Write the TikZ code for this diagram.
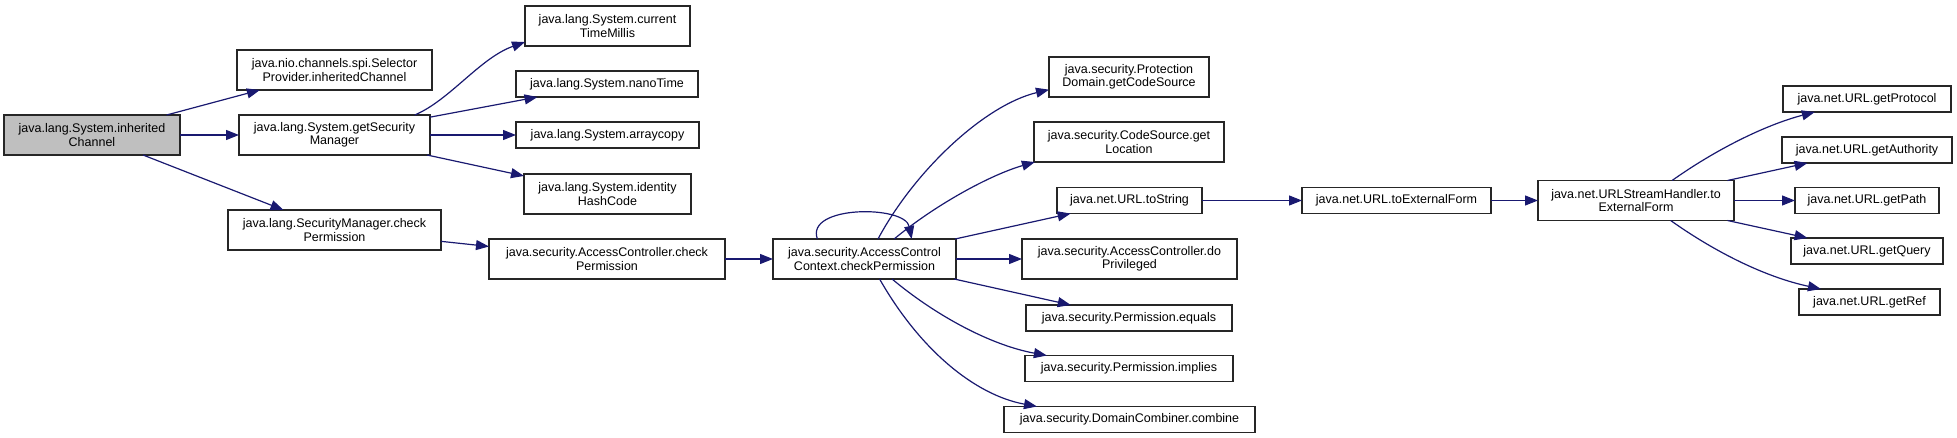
\documentclass[tikz,border=0pt]{standalone}
\usepackage{fontspec}
\setmainfont{Liberation Sans}
\usetikzlibrary{arrows.meta}
\definecolor{edgeblue}{RGB}{25,25,112}
\definecolor{rootgrey}{RGB}{191,191,191}
\begin{document}
\begin{tikzpicture}[x=1pt,y=-1pt,>={Triangle[length=13pt,width=10pt]},
    fn/.style={draw=black!85,line width=1.2pt,fill=white,align=center,inner sep=0pt,outer sep=0pt,
      font=\fontsize{12.5}{13.5}\selectfont},
    call/.style={draw=edgeblue,line width=1.2pt,->}]
    \useasboundingbox (0,0) rectangle (1957,438);
    % first column
    \node[fn,fill=rootgrey,minimum width=176pt,minimum height=40pt] (root) at (92,135) {java.lang.System.inherited\\Channel};
    % callees of the root
    \node[fn,minimum width=195pt,minimum height=40pt] (sel) at (334.5,70) {java.nio.channels.spi.Selector\\Provider.inheritedChannel};
    \node[fn,minimum width=191pt,minimum height=40pt] (gsm) at (334.5,135) {java.lang.System.getSecurity\\Manager};
    \node[fn,minimum width=213pt,minimum height=40pt] (smcp) at (334.5,230) {java.lang.SecurityManager.check\\Permission};
    % third column
    \node[fn,minimum width=165pt,minimum height=40pt] (ctm) at (607.5,26) {java.lang.System.current\\TimeMillis};
    \node[fn,minimum width=182pt,minimum height=26pt] (nano) at (607,84) {java.lang.System.nanoTime};
    \node[fn,minimum width=183pt,minimum height=26pt] (arr) at (607.5,135) {java.lang.System.arraycopy};
    \node[fn,minimum width=167pt,minimum height=40pt] (ihc) at (607.5,194) {java.lang.System.identity\\HashCode};
    \node[fn,minimum width=236pt,minimum height=40pt] (accp) at (607,259) {java.security.AccessController.check\\Permission};
    % access control context
    \node[fn,minimum width=183pt,minimum height=40pt] (accc) at (864.5,259) {java.security.AccessControl\\Context.checkPermission};
    % its callees
    \node[fn,minimum width=160pt,minimum height=40pt] (pd) at (1129,77) {java.security.Protection\\Domain.getCodeSource};
    \node[fn,minimum width=190pt,minimum height=40pt] (cs) at (1129,142) {java.security.CodeSource.get\\Location};
    \node[fn,minimum width=145pt,minimum height=26pt] (tostr) at (1129.5,200.5) {java.net.URL.toString};
    \node[fn,minimum width=215pt,minimum height=40pt] (dop) at (1129.5,259) {java.security.AccessController.do\\Privileged};
    \node[fn,minimum width=206pt,minimum height=26pt] (peq) at (1129,318) {java.security.Permission.equals};
    \node[fn,minimum width=208pt,minimum height=26pt] (pim) at (1129,368.5) {java.security.Permission.implies};
    \node[fn,minimum width=251pt,minimum height=26pt] (dcc) at (1129.5,419.5) {java.security.DomainCombiner.combine};
    % url chain
    \node[fn,minimum width=189pt,minimum height=26pt] (tef) at (1396.5,200.5) {java.net.URL.toExternalForm};
    \node[fn,minimum width=196pt,minimum height=40pt] (ush) at (1636,200.5) {java.net.URLStreamHandler.to\\ExternalForm};
    \node[fn,minimum width=168pt,minimum height=26pt] (gpro) at (1867,99) {java.net.URL.getProtocol};
    \node[fn,minimum width=170pt,minimum height=26pt] (gaut) at (1867,150) {java.net.URL.getAuthority};
    \node[fn,minimum width=144pt,minimum height=26pt] (gpath) at (1867,200.5) {java.net.URL.getPath};
    \node[fn,minimum width=152pt,minimum height=26pt] (gq) at (1867,251) {java.net.URL.getQuery};
    \node[fn,minimum width=141pt,minimum height=26pt] (gref) at (1869.5,302) {java.net.URL.getRef};
    % straight calls
    \foreach \a/\b in {root/sel,root/gsm,root/smcp,gsm/nano,gsm/arr,gsm/ihc,smcp/accp,accp/accc,
      accc/tostr,accc/dop,accc/peq,tostr/tef,tef/ush,ush/gaut,ush/gpath,ush/gq}
      \draw[call] (\a) -- (\b);
    % curved calls
    \draw[call] (gsm.14.3) .. controls (450,100) and (480,58) .. (ctm.191.6);
    \draw[call] (accc.157.2) .. controls (805,205) and (905,205) .. (accc.23.7);
    \draw[call] (accc.56) .. controls (915,170) and (985,105) .. (pd.189.2);
    \draw[call] (accc.34.1) .. controls (935,205) and (990,175) .. (cs.192.7);
    \draw[call] (accc.324.9) .. controls (935,315) and (990,345) .. (pim.171.6);
    \draw[call] (accc.307.8) .. controls (920,350) and (975,395) .. (dcc.172.5);
    \draw[call] (ush.29.1) .. controls (1715,150) and (1765,125) .. (gpro.194.6);
    \draw[call] (ush.330.9) .. controls (1715,252) and (1765,277) .. (gref.165.6);
\end{tikzpicture}
\end{document}
